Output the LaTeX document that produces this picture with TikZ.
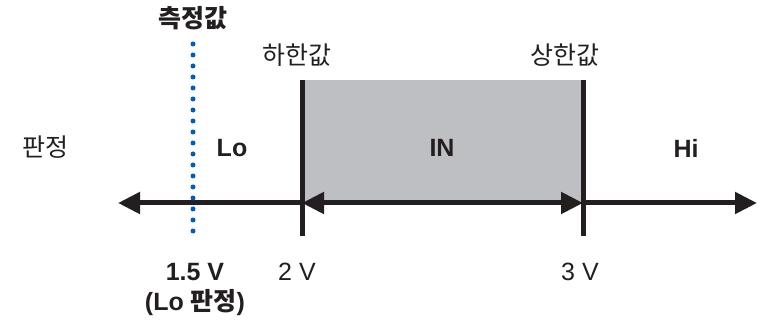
\documentclass[tikz,border=0pt]{standalone}
\usepackage{fontspec}
\setmainfont{Liberation Sans}
\newfontfamily\kr{Noto Sans CJK KR}
\usetikzlibrary{arrows.meta, positioning}
\definecolor{JudgeInk}{RGB}{35, 31, 32}
\definecolor{JudgeBlue}{RGB}{0, 94, 184}
\definecolor{JudgeGray}{RGB}{190, 191, 194}

\tikzset{
  axisline/.style={JudgeInk, line width=5pt},
  tip/.tip={Triangle[length=22pt, width=21pt]},
  tickline/.style={JudgeInk, line width=5pt},
  label/.style={text=JudgeInk, font=\fontsize{25}{30}\selectfont, inner sep=0pt},
  boldlabel/.style={label, font=\fontsize{25}{30}\selectfont\bfseries},
}

\begin{document}
\begin{tikzpicture}[x=1pt,y=1pt]
  \path[use as bounding box] (0,0) rectangle (760,-323);

  % band between the limits
  \fill[JudgeGray] (302,-80) rectangle (583,-203);

  \coordinate (lower) at (302,-203);
  \coordinate (upper) at (583,-203);
  \coordinate (leftend) at (118,-203);
  \coordinate (rightend) at (757,-203);

  \draw[tickline] (302,-80) -- (302,-236);
  \draw[tickline] (583,-80) -- (583,-236);

  \draw[axisline, -{tip}] (lower) -- (leftend);
  \draw[axisline, {tip}-{tip}] (lower) -- (upper);
  \draw[axisline, -{tip}] (upper) -- (rightend);

  % measured value
  \draw[JudgeBlue, line width=5pt, line cap=round, dash pattern=on 0pt off 11pt] (193,-44) -- (193,-242);

  \node[boldlabel] (measured) at (193,-18) {\kr 측정값};
  \node[label] (lowername) at (297,-55) {\kr 하한값};
  \node[label] (uppername) at (565,-55) {\kr 상한값};
  \node[label] (judge) at (46,-147) {\kr 판정};

  \node[boldlabel] (lo) at (232,-148) {Lo};
  \node[boldlabel] (in) at (442,-148) {IN};
  \node[boldlabel] (hi) at (686,-148) {Hi};

  \node[boldlabel] (value) at (195,-272) {1.5 V};
  \node[boldlabel, below=8pt of value.south] (result) {(Lo {\kr 판정})};
  \node[label] (twov) at (297,-272) {2 V};
  \node[label] (threev) at (580,-272) {3 V};
\end{tikzpicture}
\end{document}
